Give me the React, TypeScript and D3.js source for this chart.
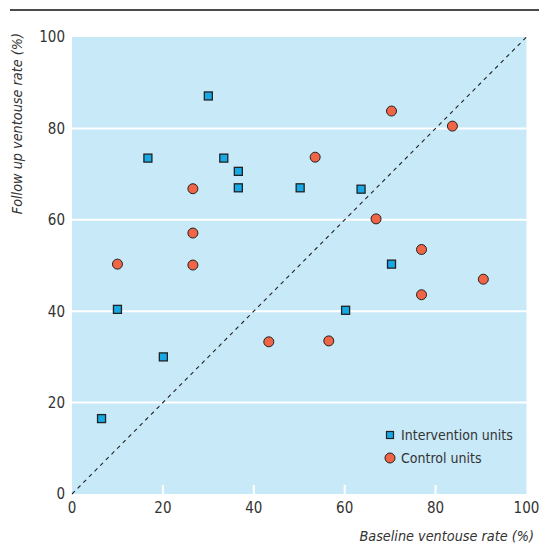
import React from "react";
import * as d3 from "d3";

const ticks = [0, 20, 40, 60, 80, 100];
const interventionX = [30, 16.7, 33.4, 36.6, 36.6, 50.2, 63.6, 70.3, 60.2, 10, 20.1, 6.5];
const interventionY = [87.1, 73.5, 73.5, 70.6, 67, 67, 66.7, 50.3, 40.2, 40.4, 30, 16.5];
const controlX = [26.6, 26.6, 26.6, 10, 53.5, 70.3, 83.7, 66.9, 76.9, 90.5, 76.9, 43.3, 56.5];
const controlY = [66.8, 57.1, 50.1, 50.3, 73.7, 83.8, 80.5, 60.2, 53.5, 47, 43.6, 33.3, 33.5];
const legendLabels = ["Intervention units", "Control units"];

const W = 539;
const H = 546;
const FONT = "'Liberation Sans Narrow', 'DejaVu Sans Condensed', 'Arial Narrow', sans-serif";
const BG = "#c8e9f8";
const SQ = "#16a9e6";
const CI = "#ef6545";
const STROKE = "#222";

export default function App() {
  const x = d3.scaleLinear().domain([0, 100]).range([72, 526.5]);
  const y = d3.scaleLinear().domain([0, 100]).range([494, 37]);
  const sq = 8;
  return (
    <svg width={W} height={H} style={{ position: "absolute", left: 0, top: 0, background: "#fff" }} fontFamily={FONT}>
      <line x1={10} x2={539} y1={10} y2={10} stroke="#111" strokeWidth={1.6} />
      <rect x={x(0)} y={y(100)} width={x(100) - x(0)} height={y(0) - y(100)} fill={BG} />
      {ticks.filter(t => t > 0 && t < 100).map(t => (
        <line key={"g" + t} x1={x(0)} x2={x(100)} y1={y(t)} y2={y(t)} stroke="#fff" strokeWidth={2} />
      ))}
      {ticks.filter(t => t > 0 && t < 100).map(t => (
        <line key={"xt" + t} x1={x(t)} x2={x(t)} y1={y(0)} y2={y(0) - 9} stroke="#fff" strokeWidth={2} />
      ))}
      <line x1={x(0)} y1={y(0)} x2={x(100)} y2={y(100)} stroke="#222" strokeWidth={1.1} strokeDasharray="4,4" />
      {ticks.map(t => (
        <text key={"yl" + t} x={65} y={y(t)} dy="0.36em" textAnchor="end" fontSize={15} fill="#333">{t}</text>
      ))}
      {ticks.map(t => (
        <text key={"xl" + t} x={x(t)} y={513} textAnchor="middle" fontSize={15} fill="#333">{t}</text>
      ))}
      {controlX.map((v, i) => (
        <circle key={"c" + i} cx={x(v)} cy={y(controlY[i])} r={5} fill={CI} stroke={STROKE} strokeWidth={1} />
      ))}
      {interventionX.map((v, i) => (
        <rect key={"s" + i} x={x(v) - sq / 2} y={y(interventionY[i]) - sq / 2} width={sq} height={sq} fill={SQ} stroke={STROKE} strokeWidth={1.3} />
      ))}
      <rect x={390 - 3.5} y={435 - 3.5} width={7} height={7} fill={SQ} stroke={STROKE} strokeWidth={1.2} />
      <text x={401} y={435} dy="0.36em" fontSize={14} fill="#333">{legendLabels[0]}</text>
      <circle cx={390} cy={458} r={5} fill={CI} stroke={STROKE} strokeWidth={1} />
      <text x={401} y={458} dy="0.36em" fontSize={14} fill="#333">{legendLabels[1]}</text>
      <text x={534} y={541} textAnchor="end" fontSize={14.3} fontStyle="italic" fill="#333">Baseline ventouse rate (%)</text>
      <text transform="translate(22,33) rotate(-90)" textAnchor="end" fontSize={14.3} fontStyle="italic" fill="#333">Follow up ventouse rate (%)</text>
    </svg>
  );
}
